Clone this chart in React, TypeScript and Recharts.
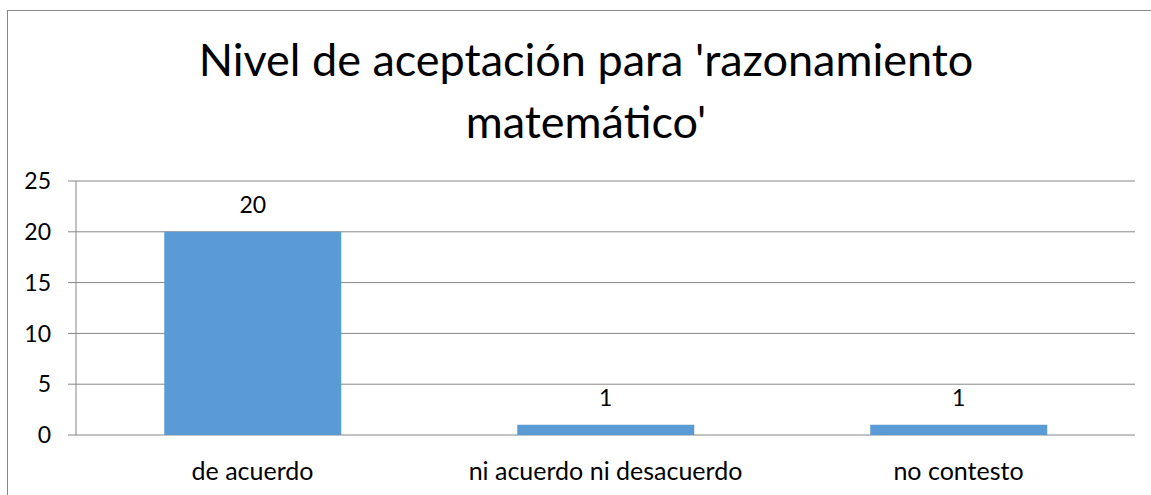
import React from 'react';
import { BarChart, Bar, XAxis, YAxis, CartesianGrid, LabelList } from 'recharts';

const categories = ['de acuerdo', 'ni acuerdo ni desacuerdo', 'no contesto'];
const responses = [20, 1, 1];
const yTicks = [0, 5, 10, 15, 20, 25];
const categoryEdges = [0, 1, 2, 3];

const TITLE_LINES = ["Nivel de aceptación para 'razonamiento", "matemático'"];

const BAR_COLOR = '#5B9BD5';
const GRID_COLOR = '#868686';
const FONT = 'Lato, "Open Sans", sans-serif';

const data = categories.map((name, i) => ({ name, value: responses[i] }));

const App: React.FC = () => {
  return (
    <div
      style={{
        position: 'absolute',
        left: 0,
        top: 0,
        width: 1151,
        height: 495,
        overflow: 'hidden',
        background: '#fff',
        fontFamily: FONT,
      }}
    >
      {/* chart frame, right and bottom edges run past the page */}
      <div
        style={{
          position: 'absolute',
          left: 7,
          top: 10,
          width: 1160,
          height: 500,
          border: `1px solid ${GRID_COLOR}`,
        }}
      />
      <div
        style={{
          position: 'absolute',
          left: 0,
          top: 28,
          width: 1172,
          textAlign: 'center',
          fontSize: 45,
          lineHeight: '62px',
          color: '#000',
        }}
      >
        {TITLE_LINES.map((line) => (
          <div key={line}>{line}</div>
        ))}
      </div>
      <div style={{ position: 'absolute', left: 0, top: 0 }}>
        <BarChart
          width={1151}
          height={495}
          data={data}
          margin={{ top: 181, right: 16, bottom: 0, left: 0 }}
          barCategoryGap="25%"
        >
          <CartesianGrid horizontal vertical={false} stroke={GRID_COLOR} />
          {/* boundary ticks between categories */}
          <XAxis
            xAxisId="edges"
            type="number"
            domain={[0, 3]}
            ticks={categoryEdges}
            height={0}
            tickSize={8}
            tickFormatter={() => ''}
            axisLine={{ stroke: GRID_COLOR }}
            tickLine={{ stroke: GRID_COLOR }}
          />
          <XAxis
            xAxisId="cat"
            dataKey="name"
            height={60}
            axisLine={false}
            tickLine={false}
            tickMargin={21}
            tick={{ fill: '#000', fontSize: 25, fontFamily: FONT }}
          />
          <YAxis
            width={76}
            domain={[0, 25]}
            ticks={yTicks}
            interval={0}
            tickSize={8}
            tickMargin={17}
            axisLine={{ stroke: GRID_COLOR }}
            tickLine={{ stroke: GRID_COLOR }}
            tick={{ fill: '#000', fontSize: 23, fontFamily: FONT }}
          />
          <Bar xAxisId="cat" dataKey="value" fill={BAR_COLOR} isAnimationActive={false}>
            <LabelList
              dataKey="value"
              position="top"
              offset={19}
              fill="#000"
              fontSize={23}
              fontFamily={FONT}
            />
          </Bar>
        </BarChart>
      </div>
    </div>
  );
};

export default App;
